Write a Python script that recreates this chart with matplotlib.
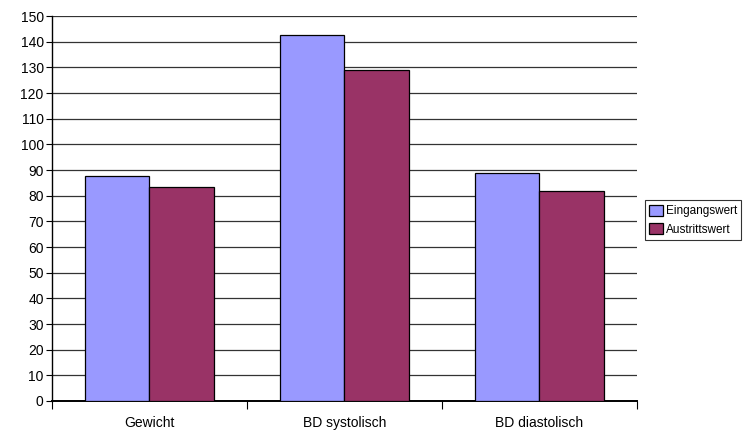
import matplotlib
matplotlib.use('Agg')
import matplotlib.pyplot as plt
import numpy as np

plt.rcParams['font.family'] = ['Liberation Sans', 'DejaVu Sans']

categories = ['Gewicht', 'BD systolisch', 'BD diastolisch']
eingangswert = [87.6, 142.5, 88.8]
austrittswert = [83.2, 128.9, 81.9]
y_ticks = list(range(0, 151, 10))

fig = plt.figure(figsize=(7.48, 4.32), dpi=100)
ax = fig.add_axes([0.0695, 0.0718, 0.782, 0.891])

x = np.arange(len(categories))
w = 0.33
ax.bar(x - w / 2, eingangswert, w, color='#9999FF', edgecolor='black', linewidth=0.9,
       label='Eingangswert', zorder=3)
ax.bar(x + w / 2, austrittswert, w, color='#993366', edgecolor='black', linewidth=0.9,
       label='Austrittswert', zorder=3)

ax.set_xlim(-0.5, len(categories) - 0.5)
ax.set_ylim(0, 150)
ax.set_yticks(y_ticks)
ax.tick_params(axis='y', labelsize=10, length=4, width=0.8, direction='out', pad=2)

# category labels sit between the boundary ticks
ax.set_xticks(np.arange(len(categories) + 1) - 0.5)
ax.set_xticklabels([])
ax.set_xticks(x, minor=True)
ax.set_xticklabels(categories, minor=True, fontsize=10)
ax.tick_params(axis='x', which='major', length=6, width=0.8, direction='out')
ax.tick_params(axis='x', which='minor', length=0, pad=11)

ax.yaxis.grid(True, color='#333333', linewidth=0.9, zorder=0)
ax.set_axisbelow(True)
for s in ['top', 'right']:
    ax.spines[s].set_visible(False)
ax.spines['left'].set_linewidth(1)
ax.spines['bottom'].set_linewidth(1.4)

leg = ax.legend(loc='center left', bbox_to_anchor=(1.014, 0.47), fontsize=8.5,
                frameon=True, fancybox=False, edgecolor='black', handlelength=1.15,
                handleheight=1.15, handletextpad=0.25, borderpad=0.35, labelspacing=0.45,
                borderaxespad=0)
leg.get_frame().set_linewidth(0.8)

fig.savefig('out.png', dpi=100)
